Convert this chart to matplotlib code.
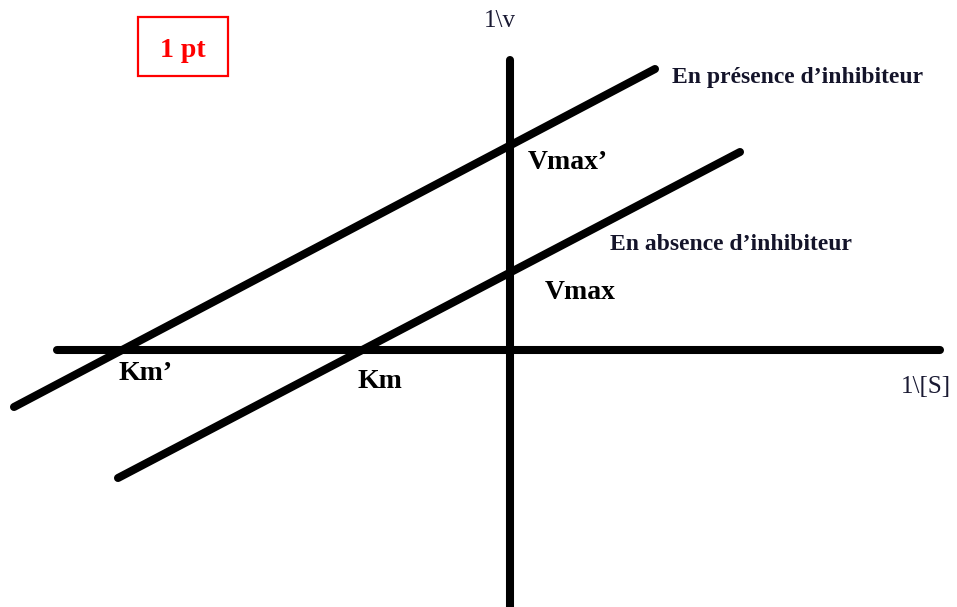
import matplotlib
matplotlib.use("Agg")
import matplotlib.pyplot as plt
from matplotlib.patches import Rectangle

# Lineweaver-Burk schematic (units: 1/[S] horizontally, 1/v vertically)
x_axis_ext = [-4.53, 4.30]
y_axis_ext = [-2.57, 2.90]
presence_x = [-4.96, 1.45]
presence_y = [-0.57, 2.81]
absence_x = [-3.92, 2.30]
absence_y = [-1.28, 1.98]

labels_bold = ["Km\u2019", "Km", "Vmax\u2019", "Vmax"]
labels_bold_pos = [(-3.91, -0.23), (-1.52, -0.31), (0.18, 1.88), (0.35, 0.58)]
series_labels = ["En présence d\u2019inhibiteur", "En absence d\u2019inhibiteur"]
series_labels_pos = [(1.62, 2.73), (1.00, 1.06)]
y_title = "1\\v"
x_title = "1\\[S]"
score = "1 pt"

fig = plt.figure(figsize=(9.57, 6.07), dpi=100)
ax = fig.add_axes([0, 0, 1, 1])
ax.set_xlim(-5.10, 4.47)
ax.set_ylim(-2.57, 3.50)
ax.axis("off")

lw = 5.8
kw = dict(color="black", lw=lw, solid_capstyle="round")
ax.plot(x_axis_ext, [0, 0], **kw)
ax.plot([0, 0], y_axis_ext, **kw)
ax.plot(presence_x, presence_y, **kw)
ax.plot(absence_x, absence_y, **kw)

serif = ["Liberation Serif", "DejaVu Serif"]
for t, (x, y) in zip(labels_bold, labels_bold_pos):
    ax.text(x, y, t, ha="left", va="center", fontsize=20, fontweight="bold",
            family=serif, color="black")
for t, (x, y) in zip(series_labels, series_labels_pos):
    ax.text(x, y, t, ha="left", va="center", fontsize=17, fontweight="bold",
            family=serif, color="#14142a")

ax.text(-0.10, 3.29, y_title, ha="center", va="center", fontsize=18,
        family=serif, color="#1a1a33")
ax.text(4.16, -0.37, x_title, ha="center", va="center", fontsize=18,
        family=serif, color="#1a1a33")

ax.add_patch(Rectangle((-3.72, 2.74), 0.90, 0.59, fc="white", ec="#ff0000", lw=1.6))
ax.text(-3.27, 3.00, score, ha="center", va="center", fontsize=20,
        fontweight="bold", family=serif, color="#ff0000")

fig.savefig("out.png", dpi=100)
